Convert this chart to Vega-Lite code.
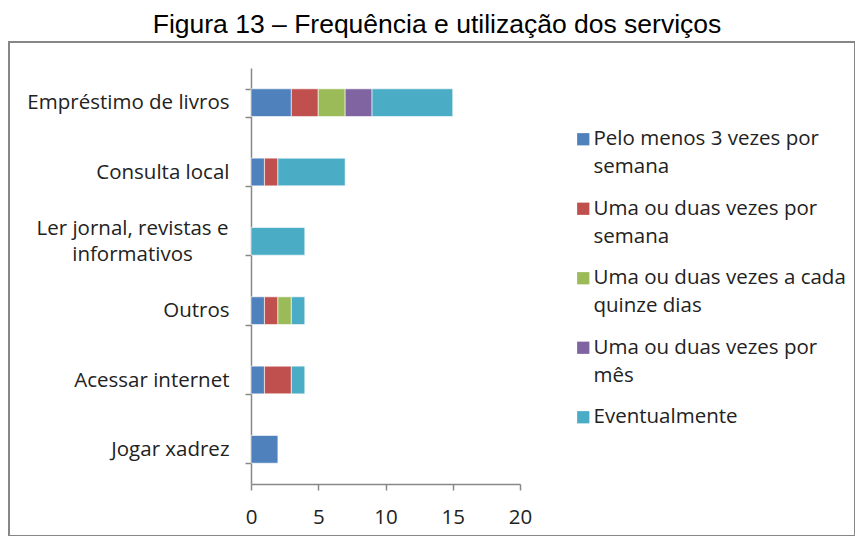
{
  "$schema": "https://vega.github.io/schema/vega-lite/v6.json",
  "width": 846,
  "height": 494,
  "autosize": {"type": "none"},
  "padding": {"left": 9, "top": 42, "right": 0, "bottom": 0},
  "background": "white",
  "title": {
    "text": "Figura 13 – Frequência e utilização dos serviços",
    "font": "Liberation Sans",
    "fontSize": 26.5,
    "fontWeight": "normal",
    "color": "black",
    "anchor": "middle",
    "frame": "group",
    "baseline": "alphabetic",
    "offset": 7,
    "dy": 34,
    "dx": 5
  },
  "config": {
    "view": {"stroke": "#878787", "strokeWidth": 2},
    "style": {"guide-label": {"lineHeight": 28}},
    "axis": {
      "domainColor": "#888888",
      "tickColor": "#888888",
      "domainWidth": 1.5,
      "tickWidth": 1.5,
      "labelFont": "Open Sans",
      "labelFontSize": 20.5,
      "labelColor": "#222222",
      "title": null,
      "grid": false
    }
  },
  "data": {
    "values": [
      {"servico": "Empréstimo de livros", "frequencia": "Pelo menos 3 vezes por semana", "ordem": 1, "valor": 3},
      {"servico": "Empréstimo de livros", "frequencia": "Uma ou duas vezes por semana", "ordem": 2, "valor": 2},
      {"servico": "Empréstimo de livros", "frequencia": "Uma ou duas vezes a cada quinze dias", "ordem": 3, "valor": 2},
      {"servico": "Empréstimo de livros", "frequencia": "Uma ou duas vezes por mês", "ordem": 4, "valor": 2},
      {"servico": "Empréstimo de livros", "frequencia": "Eventualmente", "ordem": 5, "valor": 6},
      {"servico": "Consulta local", "frequencia": "Pelo menos 3 vezes por semana", "ordem": 1, "valor": 1},
      {"servico": "Consulta local", "frequencia": "Uma ou duas vezes por semana", "ordem": 2, "valor": 1},
      {"servico": "Consulta local", "frequencia": "Eventualmente", "ordem": 5, "valor": 5},
      {"servico": "Ler jornal, revistas e informativos", "frequencia": "Eventualmente", "ordem": 5, "valor": 4},
      {"servico": "Outros", "frequencia": "Pelo menos 3 vezes por semana", "ordem": 1, "valor": 1},
      {"servico": "Outros", "frequencia": "Uma ou duas vezes por semana", "ordem": 2, "valor": 1},
      {"servico": "Outros", "frequencia": "Uma ou duas vezes a cada quinze dias", "ordem": 3, "valor": 1},
      {"servico": "Outros", "frequencia": "Eventualmente", "ordem": 5, "valor": 1},
      {"servico": "Acessar internet", "frequencia": "Pelo menos 3 vezes por semana", "ordem": 1, "valor": 1},
      {"servico": "Acessar internet", "frequencia": "Uma ou duas vezes por semana", "ordem": 2, "valor": 2},
      {"servico": "Acessar internet", "frequencia": "Eventualmente", "ordem": 5, "valor": 1},
      {"servico": "Jogar xadrez", "frequencia": "Pelo menos 3 vezes por semana", "ordem": 1, "valor": 2}
    ]
  },
  "mark": {"type": "bar", "stroke": "white", "strokeWidth": 0.6},
  "encoding": {
    "y": {
      "field": "servico",
      "type": "nominal",
      "sort": ["Empréstimo de livros", "Consulta local", "Ler jornal, revistas e informativos", "Outros", "Acessar internet", "Jogar xadrez"],
      "scale": {"range": [26, 442], "paddingInner": 0.6, "paddingOuter": 0.3},
      "axis": {
        "offset": -242,
        "tickBand": "extent",
        "tickSize": 6,
        "labelPadding": {"condition": {"test": "datum.value == 'Ler jornal, revistas e informativos'", "value": 113}, "value": 16},
        "labelAlign": {"condition": {"test": "datum.value == 'Ler jornal, revistas e informativos'", "value": "center"}, "value": "right"},
        "labelLineHeight": 26,
        "labelLimit": 300,
        "labelOffset": {"condition": {"test": "datum.value == 'Ler jornal, revistas e informativos'", "value": -13}, "value": 0},
        "labelExpr": "datum.label == 'Ler jornal, revistas e informativos' ? ['Ler jornal, revistas e', 'informativos'] : datum.label"
      }
    },
    "x": {
      "field": "valor",
      "type": "quantitative",
      "stack": "zero",
      "scale": {"domain": [0, 20], "range": [242, 511], "nice": false},
      "axis": {
        "offset": -52,
        "values": [0, 5, 10, 15, 20],
        "tickSize": 6,
        "labelPadding": 17,
        "labelFlush": false
      }
    },
    "color": {
      "field": "frequencia",
      "type": "nominal",
      "scale": {
        "domain": ["Pelo menos 3 vezes por semana", "Uma ou duas vezes por semana", "Uma ou duas vezes a cada quinze dias", "Uma ou duas vezes por mês", "Eventualmente"],
        "range": ["#4F81BD", "#C0504D", "#9BBB59", "#8064A2", "#4BACC6"]
      },
      "legend": {
        "orient": "none",
        "legendX": 564,
        "legendY": 87,
        "title": null,
        "padding": 0,
        "symbolType": "square",
        "symbolSize": 150,
        "symbolStrokeWidth": 0,
        "labelFont": "Open Sans",
        "labelFontSize": 20.5,
        "labelColor": "#222222",
        "labelLimit": 300,
        "labelOffset": 0,
        "labelBaseline": "middle",
        "rowPadding": 20.5,
        "labelExpr": "datum.label == 'Pelo menos 3 vezes por semana' ? ['Pelo menos 3 vezes por', 'semana'] : datum.label == 'Uma ou duas vezes por semana' ? ['Uma ou duas vezes por', 'semana'] : datum.label == 'Uma ou duas vezes a cada quinze dias' ? ['Uma ou duas vezes a cada', 'quinze dias'] : datum.label == 'Uma ou duas vezes por mês' ? ['Uma ou duas vezes por', 'mês'] : datum.label"
      }
    },
    "order": {"field": "ordem", "type": "quantitative"}
  }
}
